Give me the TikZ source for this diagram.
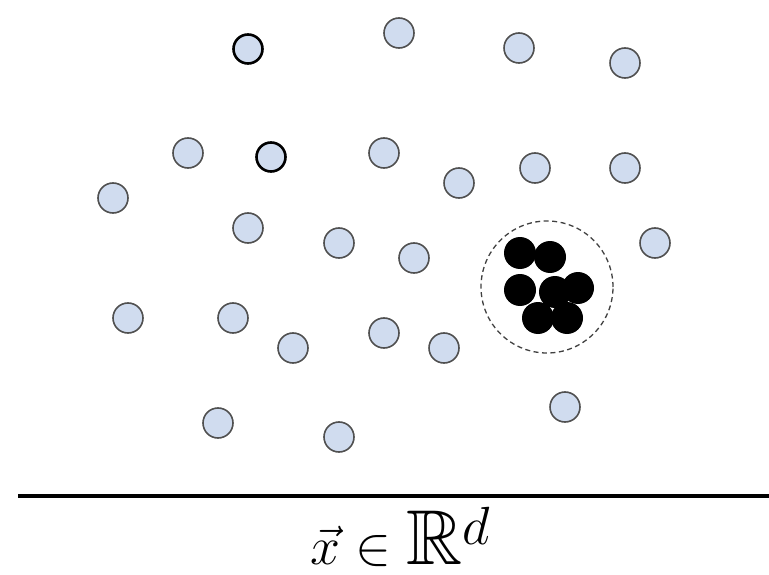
\documentclass[tikz,border=0pt]{standalone}
\usepackage{amssymb}
\usepackage{graphicx}
\definecolor{ptfill}{HTML}{D0DCEF}
\definecolor{ptline}{HTML}{505050}
\begin{document}
\begin{tikzpicture}[x=1pt,y=-1pt,
  pt/.style={circle,draw=ptline,fill=ptfill,line width=1.6pt,minimum size=30pt,inner sep=0pt},
  bpt/.style={circle,draw=black,fill=ptfill,line width=2.6pt,minimum size=29pt,inner sep=0pt},
  kpt/.style={circle,fill=black,minimum size=32pt,inner sep=0pt},
  ring/.style={circle,draw=black!75,dash pattern=on 5pt off 3.5pt,line width=1.3pt,minimum size=132pt,inner sep=0pt}]
\useasboundingbox (0,0) rectangle (769,575);
\node[ring] (ring) at (547,287) {};
\foreach \x/\y [count=\i] in {520/253,550/257,520/290,555/292,578/288,538/318,567/318}
  \node[kpt] (k\i) at (\x,\y) {};
\node[bpt] (b1) at (248,49) {};
\node[bpt] (b2) at (271,157) {};
\foreach \x/\y [count=\i] in {399/33,519/48,625/63,188/153,384/153,459/183,535/168,625/168,113/198,248/228,339/243,414/258,655/243,128/318,233/318,293/348,384/333,444/348,565/407,218/423,339/437}
  \node[pt] (p\i) at (\x,\y) {};
\coordinate (axl) at (18,496);
\coordinate (axr) at (769,496);
\draw[line width=3.5pt] (axl) -- (axr);
\node[inner sep=0pt] (lbl) at (401,537) {\scalebox{2.16}{\fontsize{36}{40}\selectfont$\vec{x}\in\mathbb{R}^d$}};
\end{tikzpicture}
\end{document}
